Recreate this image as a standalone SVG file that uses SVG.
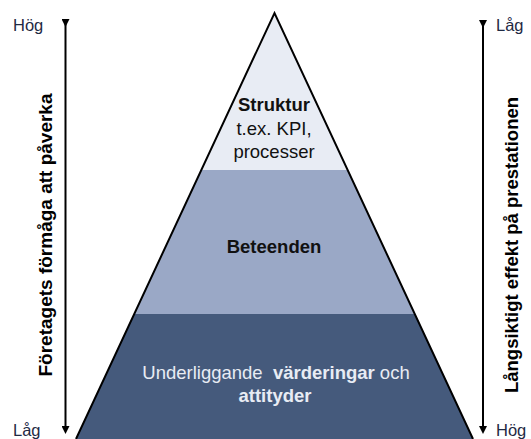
<svg xmlns="http://www.w3.org/2000/svg" width="531" height="439" viewBox="0 0 531 439">
<style>
text{font-family:"Liberation Sans",Arial,sans-serif;}
.lbl{font-size:16.5px;fill:#1f2a44;}
.ax{font-size:19px;font-weight:bold;fill:#000;}
.t{font-size:18.5px;fill:#111;text-anchor:middle;}
.w{font-size:18.5px;fill:#e8ecf4;text-anchor:middle;}
.b{font-weight:bold;}
</style>
<defs>
<marker id="ah" markerWidth="8" markerHeight="8" refX="4" refY="4" orient="auto" markerUnits="userSpaceOnUse">
<path d="M0,0 L8,4 L0,8 Z" fill="#000"/>
</marker>
<clipPath id="tri"><polygon points="274.5,13 76,439 473,439"/></clipPath>
</defs>
<g id="pyramid">
<g clip-path="url(#tri)">
<rect x="0" y="0" width="531" height="170" fill="#e8ecf4"/>
<rect x="0" y="170" width="531" height="144" fill="#9aa8c6"/>
<rect x="0" y="314" width="531" height="125" fill="#455a7c"/>
</g>
<polyline points="76,439 274.5,13 473,439" fill="none" stroke="#000" stroke-width="2"/>
</g>
<g id="struktur">
<text class="t b" x="274" y="111">Struktur</text>
<text class="t" x="274" y="135">t.ex. KPI,</text>
<text class="t" x="274" y="158">processer</text>
</g>
<g id="beteenden">
<text class="t b" x="274" y="253">Beteenden</text>
</g>
<g id="varderingar">
<text class="w" x="276" y="379" xml:space="preserve">Underliggande  <tspan class="b">värderingar</tspan> och</text>
<text class="w b" x="275" y="402">attityder</text>
</g>
<g id="connectors">
<line x1="65.5" y1="23" x2="65.5" y2="430" stroke="#000" stroke-width="2" marker-start="url(#ah)" marker-end="url(#ah)"/>
<line x1="483" y1="24" x2="483" y2="430" stroke="#000" stroke-width="2" marker-start="url(#ah)" marker-end="url(#ah)"/>
</g>
<g id="left-axis">
<text class="lbl" x="13" y="31">Hög</text>
<text class="lbl" x="13" y="436">Låg</text>
<text class="ax" transform="translate(52,235) rotate(-90)" text-anchor="middle">Företagets förmåga att påverka</text>
</g>
<g id="right-axis">
<text class="lbl" x="496" y="31">Låg</text>
<text class="lbl" x="496" y="436">Hög</text>
<text class="ax" transform="translate(518,245) rotate(-90)" text-anchor="middle" style="font-size:18.5px">Långsiktigt effekt på prestationen</text>
</g>
</svg>
